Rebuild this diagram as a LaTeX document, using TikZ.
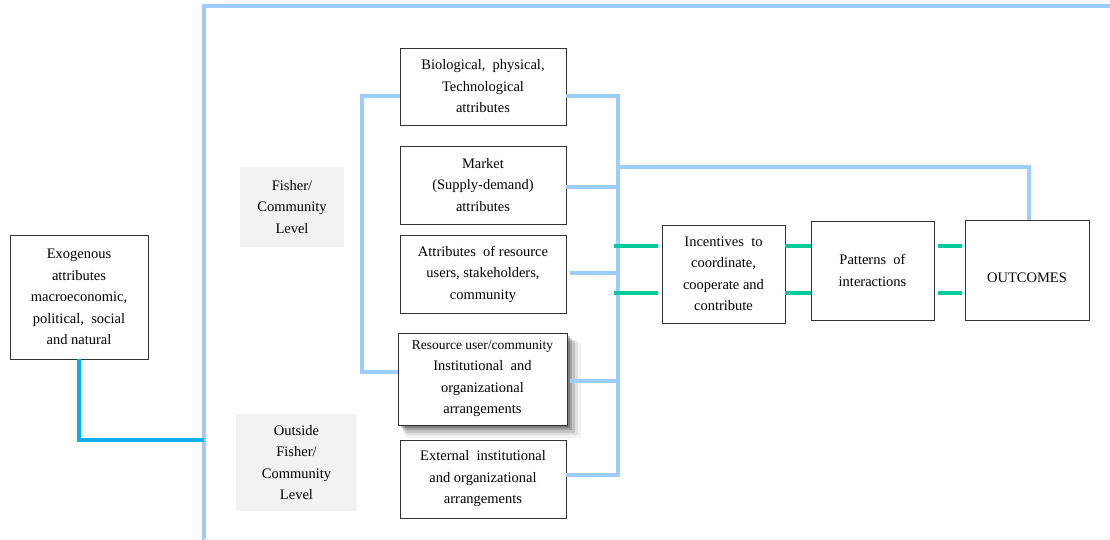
\documentclass[tikz,border=0pt]{standalone}
\usepackage{fontspec}
\setmainfont{Liberation Serif}
\usetikzlibrary{shadows,calc}
\definecolor{lineblue}{RGB}{157,205,255}
\definecolor{exoblue}{RGB}{0,176,240}
\definecolor{lgreen}{RGB}{0,204,153}
\definecolor{lblgray}{RGB}{242,242,242}
\begin{document}
\begin{tikzpicture}[x=1pt,y=-1pt,
  txt/.style={font=\fontsize{14.5}{21.5}\selectfont, align=center, inner sep=0pt},
  boxnode/.style={txt, draw=black!80, line width=0.9pt, fill=white},
  levelbox/.style={txt, fill=lblgray},
  blueline/.style={draw=lineblue, line width=3.8pt},
  exoline/.style={draw=exoblue, line width=3.8pt},
  greenline/.style={draw=lgreen, line width=3.8pt},
  shadowed/.style={
    drop shadow={shadow xshift=11pt, shadow yshift=-11pt, shadow scale=1.03, fill=black, opacity=0.05},
    drop shadow={shadow xshift=9pt, shadow yshift=-9pt, shadow scale=1.02, fill=black, opacity=0.08},
    drop shadow={shadow xshift=7pt, shadow yshift=-7pt, shadow scale=1.01, fill=black, opacity=0.12},
    drop shadow={shadow xshift=5pt, shadow yshift=-5pt, fill=black, opacity=0.18},
    drop shadow={shadow xshift=3pt, shadow yshift=-3pt, fill=black, opacity=0.22}}
]
\useasboundingbox (0,0) rectangle (1110,540);

% outer frame
\coordinate (fbl) at (204,540);
\coordinate (ftl) at (204,6);
\coordinate (ftr) at (1110,6);
\coordinate (fbr) at (1110,538.5);
\draw[blueline] (fbl) -- (ftl) -- (ftr);
\draw[lineblue!20, line width=1.5pt] (fbl |- fbr) -- (fbr);

% nodes
\node[boxnode, minimum width=138pt, minimum height=124pt] (exo) at (79,297)
  {Exogenous\\attributes\\macroeconomic,\\political,\ \ social\\and natural};
\node[levelbox, minimum width=104pt, minimum height=80pt] (fisher) at (292,207)
  {Fisher/\\Community\\Level};
\node[levelbox, minimum width=121pt, minimum height=97pt] (outside) at (296.5,462.5)
  {Outside\\Fisher/\\Community\\Level};

\node[boxnode, minimum width=166pt, minimum height=77pt] (bio) at (483,86.5)
  {Biological,\ \ physical,\\Technological\\attributes};
\node[boxnode, minimum width=166pt, minimum height=78pt] (mkt) at (483,185)
  {Market\\(Supply-demand)\\attributes};
\node[boxnode, minimum width=166pt, minimum height=78pt] (attr) at (483,274)
  {Attributes\ \ of resource\\users, stakeholders,\\community};
\node[boxnode, shadowed, minimum width=169pt, minimum height=92pt] (res) at (482.5,379)
  {{\fontsize{13.5}{19}\selectfont Resource user/community}\\[-0.5pt]Institutional\ \ and\\organizational\\arrangements};
\node[boxnode, minimum width=166pt, minimum height=78pt] (ext) at (483,479)
  {External\ \ institutional\\and organizational\\arrangements};

\node[boxnode, minimum width=123pt, minimum height=98pt] (inc) at (723.5,274)
  {Incentives\ \ to\\coordinate,\\cooperate and\\contribute};
\node[boxnode, minimum width=123pt, minimum height=99pt] (pat) at (872.5,270.5)
  {Patterns\ \ of\\interactions};
\node[boxnode, minimum width=124pt, minimum height=100pt,
      label={[txt, yshift=-8pt]center:OUTCOMES}] (out) at (1027,270) {};

% exogenous connector
\coordinate (ex1) at (79,440);
\draw[exoline] (exo.south) -- (ex1) -- (ex1 -| fbl);

% left bracket
\coordinate (lt) at (362,96);
\coordinate (lb) at (362,372);
\draw[blueline] (bio.west |- lt) -- (lt) -- (lb) -- (res.west |- lb);

% right bus
\coordinate (bt) at (618,96);
\coordinate (bb) at (618,475);
\draw[blueline] (bio.east |- bt) -- (bt) -- (bb) -- (ext.east |- bb);
\coordinate (ym) at (0,187);
\coordinate (ya) at (0,273);
\coordinate (yr) at (0,381);
\draw[blueline] (mkt.east |- ym) -- (bt |- ym);
\draw[blueline] ($(attr.east |- ya)+(4,0)$) -- (bt |- ya);
\draw[blueline] ($(res.east |- yr)+(3,0)$) -- (bt |- yr);

% top link to outcomes
\coordinate (tp) at (1029,167);
\draw[blueline] (bt |- tp) -- (tp) -- (tp |- out.north);

% green links
\coordinate (g1) at (0,246);
\coordinate (g2) at (0,293);
\foreach \g in {g1,g2}{
  \draw[greenline] ($(bt |- \g)+(-4,0)$) -- ($(inc.west |- \g)+(-4,0)$);
  \draw[greenline] (inc.east |- \g) -- (pat.west |- \g);
  \draw[greenline] ($(pat.east |- \g)+(4,0)$) -- ($(out.west |- \g)+(-3,0)$);
}
\end{tikzpicture}
\end{document}
